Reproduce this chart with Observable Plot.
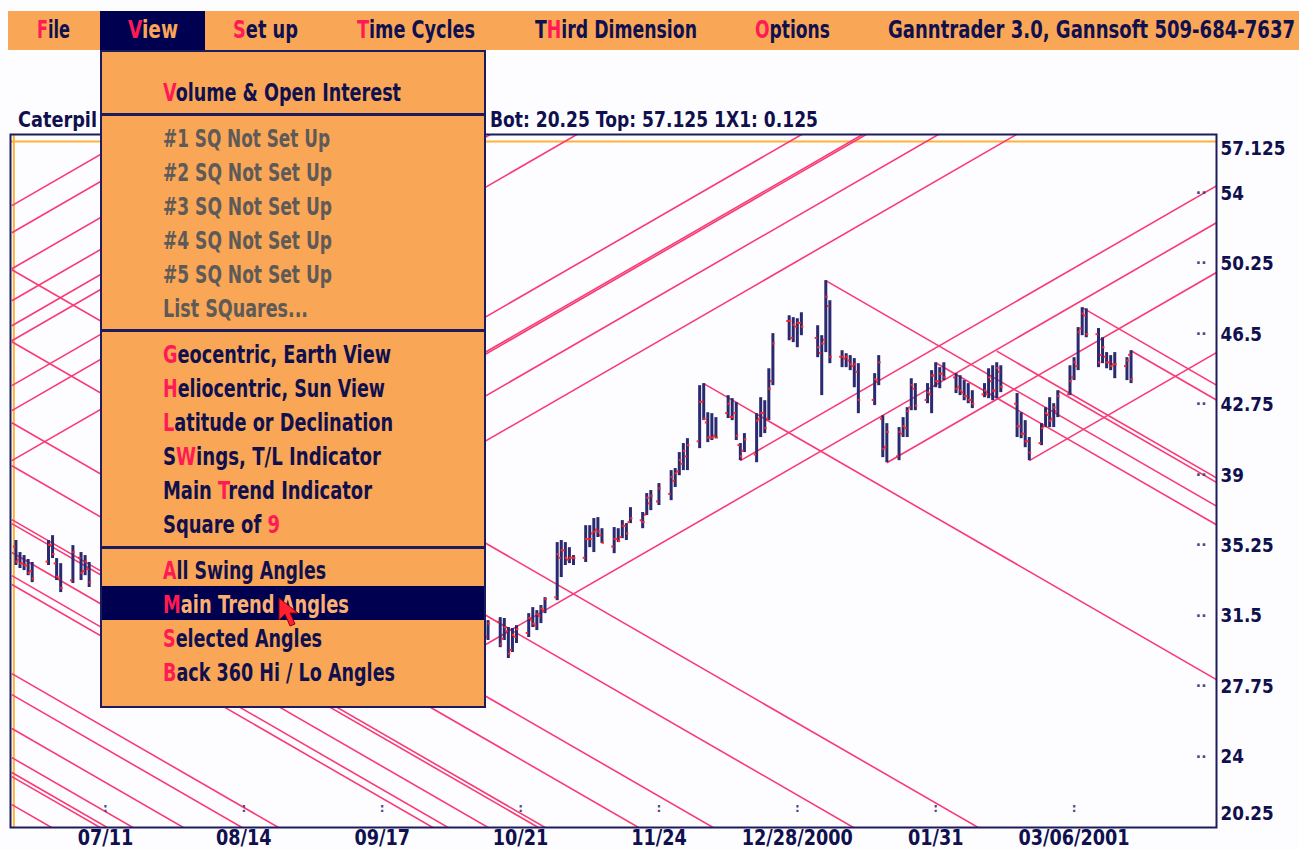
<!DOCTYPE html>
<html><head><meta charset="utf-8">
<script src="https://cdn.jsdelivr.net/npm/d3@7"></script>
<script src="https://cdn.jsdelivr.net/npm/@observablehq/plot@0.6"></script>
<style>
body{margin:0;background:#fdfdff;}
#wrap{position:relative;width:1299px;height:850px;overflow:hidden;font-family:"DejaVu Sans","Liberation Sans",sans-serif;font-weight:bold;color:#10104e;}
#wrap svg{position:absolute;left:0;top:0;}
.abs{position:absolute;white-space:nowrap;}
#menubar{left:8px;top:11px;width:1291px;height:39px;background:#f9a656;}
.mi{position:absolute;top:0;height:39px;line-height:39px;font-size:24px;}
.r{color:#ff1a55;}
#viewbox{position:absolute;left:92px;top:0;width:105px;height:39px;background:#000050;}
#drop{left:100px;top:50px;width:382px;height:654px;background:#f9a656;border:2px solid #1c1c5c;}
.it{position:absolute;left:61px;font-size:24px;height:30px;line-height:30px;}
.g{color:#5e5a58;}
.sep{position:absolute;left:0;width:382px;height:3px;background:#1c1c5c;}
#hl{position:absolute;left:0;top:534px;width:382px;height:34px;background:#000050;}
.title{top:107px;font-size:21px;height:26px;line-height:26px;}
</style></head>
<body><div id="wrap"></div>
<script>
// ---------- data ----------
const dates = ["2000-06-19","2000-06-20","2000-06-21","2000-06-22","2000-06-23","2000-06-27","2000-06-28","2000-06-29","2000-06-30","2000-07-03","2000-07-05","2000-07-06","2000-07-07",
"2000-10-13","2000-10-16","2000-10-17","2000-10-18","2000-10-19","2000-10-20","2000-10-23","2000-10-24","2000-10-25","2000-10-26","2000-10-27",
"2000-10-30","2000-10-31","2000-11-01","2000-11-02","2000-11-03","2000-11-06","2000-11-07","2000-11-08","2000-11-09","2000-11-10",
"2000-11-13","2000-11-14","2000-11-15","2000-11-16","2000-11-17","2000-11-20","2000-11-21","2000-11-22","2000-11-24",
"2000-11-27","2000-11-28","2000-11-29","2000-11-30","2000-12-01","2000-12-04","2000-12-05","2000-12-06","2000-12-07","2000-12-08",
"2000-12-11","2000-12-12","2000-12-13","2000-12-14","2000-12-15","2000-12-18","2000-12-19","2000-12-20","2000-12-21","2000-12-22",
"2000-12-26","2000-12-27","2000-12-28","2000-12-29","2001-01-02","2001-01-03","2001-01-04","2001-01-05",
"2001-01-08","2001-01-09","2001-01-10","2001-01-11","2001-01-12","2001-01-16","2001-01-17","2001-01-18","2001-01-19",
"2001-01-22","2001-01-23","2001-01-24","2001-01-25","2001-01-26","2001-01-29","2001-01-30","2001-01-31","2001-02-01","2001-02-02",
"2001-02-05","2001-02-06","2001-02-07","2001-02-08","2001-02-09","2001-02-12","2001-02-13","2001-02-14","2001-02-15","2001-02-16",
"2001-02-20","2001-02-21","2001-02-22","2001-02-23","2001-02-26","2001-02-27","2001-02-28","2001-03-01","2001-03-02",
"2001-03-05","2001-03-06","2001-03-07","2001-03-08","2001-03-09","2001-03-12","2001-03-13","2001-03-14","2001-03-15","2001-03-16",
"2001-03-19","2001-03-20"];
const highs = [35.52,34.88,34.72,34.51,34.35,35.52,35.78,34.56,34.29,35.25,34.88,34.72,34.35,
31.26,31.42,31.37,30.89,30.84,30.99,31.63,31.95,31.79,32.06,32.48,
35.41,35.52,35.41,35.14,34.72,36.31,36.31,36.69,36.74,36.15,
36.21,36.15,36.58,36.42,37.27,37.01,38.02,38.18,38.55,
39.24,39.35,40.20,40.68,40.94,43.76,43.87,42.32,42.27,42.06,
43.23,43.07,42.86,40.68,41.21,42.27,43.12,42.96,44.66,46.53,
47.48,47.38,47.32,47.64,46.95,46.42,49.35,48.28,
45.62,45.46,45.36,45.20,44.93,44.40,45.36,42.16,41.74,
41.53,42.06,42.59,44.13,43.87,43.87,44.56,44.98,44.72,44.98,
44.40,44.29,44.03,43.87,43.49,43.87,44.66,44.82,44.98,44.82,
43.34,42.32,41.90,41.00,41.74,42.59,43.12,42.80,43.49,
44.82,45.25,46.85,47.91,47.85,46.80,46.31,45.52,45.36,45.52,
45.25,45.62];
const lows = [34.19,34.03,33.92,33.65,33.28,34.19,34.56,33.39,32.75,33.23,33.39,33.65,33.02,
30.20,29.82,30.20,29.24,29.56,30.04,30.36,30.89,30.73,31.10,31.63,
32.32,33.55,34.19,34.29,34.19,34.35,35.14,34.88,35.68,35.36,
34.82,35.41,35.62,35.52,36.42,36.15,36.85,37.11,37.38,
37.64,38.34,38.97,39.24,39.24,40.41,41.90,40.73,40.84,40.94,
42.01,41.90,40.84,39.77,40.20,39.66,41.00,41.21,41.90,43.76,
46.15,46.05,45.78,46.42,45.25,43.23,45.52,44.93,
44.72,44.72,44.56,43.65,42.27,42.70,43.76,39.93,39.66,
39.77,41.00,41.00,42.43,42.43,42.80,42.27,43.65,43.60,44.03,
43.34,43.23,42.96,42.80,42.54,43.12,43.07,42.96,43.07,43.39,
41.00,40.94,40.46,39.77,40.57,41.53,41.53,41.53,42.06,
43.23,44.03,44.56,46.42,46.31,44.72,44.93,44.66,44.56,44.13,
44.03,43.87];
const opens = [35.2,34.5,34.3,34.2,33.9,34.4,35.3,34.3,33.5,33.4,34.6,33.9,34.0,
30.4,31.2,30.3,30.7,29.7,30.4,30.6,31.3,31.0,31.5,31.8,
32.5,34.6,35.0,34.5,34.6,34.6,35.6,35.9,36.1,35.8,
35.2,35.6,35.7,36.3,36.5,36.6,36.9,37.5,37.6,
38.0,38.7,39.2,39.6,40.0,40.8,42.9,41.8,41.0,41.1,
42.3,42.1,42.3,40.6,40.3,40.1,42.0,42.3,42.0,44.0,
47.2,46.3,46.9,47.1,46.3,45.5,46.2,48.0,
45.3,45.2,45.1,44.8,44.5,43.0,44.0,42.0,40.5,
40.0,41.2,41.5,42.6,43.6,43.0,43.3,44.3,44.0,44.4,
44.2,43.7,43.4,43.2,43.0,43.3,43.3,44.0,43.5,44.5,
42.8,41.6,41.2,40.8,40.7,41.6,42.2,42.0,42.4,
43.3,44.2,44.8,46.8,47.5,46.5,45.4,45.3,45.0,44.9,
44.8,45.4];
const closes = [34.4,34.3,34.2,33.8,33.5,35.3,34.8,33.6,33.0,34.9,33.8,34.4,33.3,
31.1,30.0,30.9,29.5,30.5,30.8,31.4,31.1,31.6,31.9,32.4,
34.8,35.0,34.6,34.6,34.6,35.6,35.6,36.0,36.0,35.4,
35.6,35.5,36.3,35.9,36.7,36.5,37.8,37.9,38.3,
38.9,39.1,39.8,40.3,40.6,42.9,42.0,41.0,41.0,41.0,
42.8,42.1,41.1,40.0,40.9,41.9,42.3,41.5,43.6,46.0,
47.2,47.0,47.1,46.9,45.8,46.0,48.5,45.3,
45.3,45.3,44.9,44.9,43.0,44.1,45.0,40.4,41.3,
41.3,41.6,42.4,43.8,42.7,43.4,44.3,44.0,44.4,44.2,
43.6,43.5,43.2,43.0,42.8,43.5,44.2,43.5,44.7,43.7,
41.6,41.2,40.8,40.2,41.5,42.3,41.9,42.6,43.2,
44.0,45.0,46.6,47.6,46.5,45.0,45.8,45.0,44.8,44.9,
45.1,44.1];

// Gann 1x1 angle lines: start date, start price, direction (+1 up / -1 down)
const oneByOne = 0.125; // price per calendar day
const lineStart = [
 "2000-06-18","2000-06-18","2000-06-18","2000-06-18","2000-06-18","2000-06-18","2000-06-18","2000-06-18",
 "2000-06-18","2000-06-18","2000-06-18","2000-06-18","2000-06-18","2000-06-18","2000-06-18","2000-06-18",
 "2000-06-18","2000-06-18","2000-06-18","2000-06-18","2000-06-18","2000-06-18","2000-06-18","2000-06-18","2000-06-18",
 "2000-08-28","2000-08-28","2000-08-28","2000-08-28","2000-08-28","2000-09-26",
 "2000-12-05","2000-12-14","2001-01-04","2001-01-19","2001-02-23","2001-03-08","2001-03-20","2001-01-31","2001-02-15","2001-03-02"];
const linePrice = [
 21.47,22.96,23.18,23.97,25.52,27.32,28.44,33.18,
 33.65,34.88,36.42,36.63,39.50,41.79,46.10,49.93,
 53.34,51.90,49.98,48.28,46.95,46.15,43.76,42.43,39.77,
 41.74,39.87,39.76,37.54,35.14,27.93,
 43.87,39.77,49.35,39.66,39.77,47.91,45.62,44.98,45.60,43.49];
const lineDir = [
 -1,-1,-1,-1,-1,-1,-1,-1,
 -1,-1,-1,-1,-1,-1,-1,-1,
 1,1,1,1,1,1,1,1,1,
 1,1,1,1,1,1,
 -1,1,-1,1,1,-1,-1,-1,-1,-1];

const yTicks = [54,50.25,46.5,42.75,39,35.25,31.5,27.75,24];
const yTop = 57.125, yBot = 20.25, topLine = 56.75;
const xTickDates = ["2000-07-11","2000-08-14","2000-09-17","2000-10-21","2000-11-24","2000-12-28","2001-01-31","2001-03-06"];
const xTickLabels = ["07/11","08/14","09/17","10/21","11/24","12/28/2000","01/31","03/06/2001"];
const firstDay = "2000-06-18";

// ---------- build ----------
const day = 864e5;
const xStart = new Date(Date.UTC(2000,5,17,16)), xEnd = new Date(Date.UTC(2001,3,10));
const bars = dates.map((d,i)=>({date:new Date(d),open:opens[i],high:highs[i],low:lows[i],close:closes[i]}));
const angles = lineStart.map((d,i)=>{const s=new Date(d);const n=(xEnd-s)/day;
  return {xa:s,ya:linePrice[i],xb:xEnd,yb:linePrice[i]+lineDir[i]*oneByOne*n};});
const xt = xTickDates.map(d=>new Date(d));
const lab = new Map(xt.map((d,i)=>[+d,xTickLabels[i]]));
const navy="#1c1c5c", pink="#f93a74", barC="#2a2a70", tickC="#ff2a2a", orange="#ffb23a";

const chart = Plot.plot({
  width:1299, height:850, marginTop:134, marginBottom:23, marginLeft:10, marginRight:83,
  x:{type:"utc", domain:[xStart,xEnd]},
  y:{domain:[yBot,yTop]},
  style:{fontFamily:'"DejaVu Sans",sans-serif', fontWeight:"bold", fontSize:"20px", color:"#10104e", background:"transparent"},
  marks:[
    Plot.ruleY([topLine],{stroke:orange,strokeWidth:2}),
    Plot.ruleX([new Date(firstDay)],{stroke:orange,strokeWidth:2,dx:2}),
    Plot.link(angles,{x1:"xa",y1:"ya",x2:"xb",y2:"yb",stroke:pink,strokeWidth:1.6,clip:true}),
    Plot.ruleX(bars,{x:"date",y1:"low",y2:"high",stroke:barC,strokeWidth:3}),
    Plot.ruleY(bars,{y:"open",x1:d=>new Date(+d.date-0.6*day),x2:"date",stroke:tickC,strokeWidth:2}),
    Plot.ruleY(bars,{y:"close",x1:"date",x2:d=>new Date(+d.date+0.6*day),stroke:tickC,strokeWidth:2}),
    Plot.text(yTicks,{y:d=>d,frameAnchor:"right",dx:-10,text:()=>"··",fill:"#4a4a80",fontSize:14}),
    Plot.text(xt,{x:d=>d,frameAnchor:"bottom",dy:-16,text:()=>":",fill:"#4a4a80",fontSize:12}),
    Plot.frame({stroke:navy,strokeWidth:2}),
    Plot.axisY({anchor:"right",ticks:yTicks,tickSize:0,tickPadding:4,tickFormat:d=>String(d),label:null,fontSize:20}),
    Plot.text([yTop],{y:d=>d,frameAnchor:"right",dx:4,dy:14,textAnchor:"start",text:d=>String(d),fontSize:20}),
    Plot.text([yBot],{y:d=>d,frameAnchor:"right",dx:4,dy:-14,textAnchor:"start",text:d=>String(d),fontSize:20}),
    Plot.axisX({ticks:xt,tickSize:0,tickPadding:3,tickFormat:d=>lab.get(+d),label:null,fontSize:21})
  ]
});
const wrap = document.getElementById("wrap");
wrap.appendChild(chart);
// condense axis label glyphs like the original bitmap font
chart.querySelectorAll("text").forEach(t=>{
  const s=t.textContent; if(!/\d/.test(s)) return;
  const L=t.getComputedTextLength(); t.setAttribute("textLength",L*0.84); t.setAttribute("lengthAdjust","spacingAndGlyphs");
});

// ---------- window chrome (menus, title) ----------
const menuItems = [
  {x:29,w:33, html:'<span class="r">F</span>ile'},
  {x:225,w:65, html:'<span class="r">S</span>et up'},
  {x:349,w:118, html:'<span class="r">T</span>ime Cycles'},
  {x:527,w:162, html:'T<span class="r">H</span>ird Dimension'},
  {x:747,w:75, html:'<span class="r">O</span>ptions'},
  {x:880,w:407, html:'Ganntrader 3.0, Gannsoft 509-684-7637'}
];
const dropItems = [
  {y:26,w:238, html:'<span class="r">V</span>olume &amp; Open Interest'},
  {y:72,w:167, cls:"g", html:'#1 SQ Not Set Up'},
  {y:106,w:169, cls:"g", html:'#2 SQ Not Set Up'},
  {y:140,w:169, cls:"g", html:'#3 SQ Not Set Up'},
  {y:174,w:169, cls:"g", html:'#4 SQ Not Set Up'},
  {y:208,w:169, cls:"g", html:'#5 SQ Not Set Up'},
  {y:242,w:145, cls:"g", html:'List SQuares...'},
  {y:288,w:228, html:'<span class="r">G</span>eocentric, Earth View'},
  {y:322,w:222, html:'<span class="r">H</span>eliocentric, Sun View'},
  {y:356,w:230, html:'<span class="r">L</span>atitude or Declination'},
  {y:390,w:218, html:'S<span class="r">W</span>ings, T/L Indicator'},
  {y:424,w:209, html:'Main <span class="r">T</span>rend Indicator'},
  {y:458,w:117, html:'Square of <span class="r">9</span>'},
  {y:504,w:163, html:'<span class="r">A</span>ll Swing Angles'},
  {y:538,w:186, hl:true, html:'<span class="r">M</span>ain Trend Angles'},
  {y:572,w:159, html:'<span class="r">S</span>elected Angles'},
  {y:606,w:232, html:'<span class="r">B</span>ack 360 Hi / Lo Angles'}
];
let h = '<div class="abs title" data-w="79" style="left:18px">Caterpil</div>';
h += '<div class="abs title" data-w="328" style="left:490px">Bot: 20.25 Top: 57.125 1X1: 0.125</div>';
h += '<div id="menubar" class="abs"><div id="viewbox"></div>';
h += '<div class="mi" data-w="50" style="left:120px;color:#f9a656"><span class="r">V</span>iew</div>';
menuItems.forEach(m=>{h += `<div class="mi" data-w="${m.w}" style="left:${m.x}px">${m.html}</div>`;});
h += '</div><div id="drop" class="abs"><div id="hl"></div>';
[61,277,494].forEach(y=>{h += `<div class="sep" style="top:${y}px"></div>`;});
dropItems.forEach(m=>{h += `<div class="it ${m.cls||""}" data-w="${m.w}" style="top:${m.y}px;${m.hl?"color:#f9b070":""}">${m.html}</div>`;});
h += '<svg class="abs" style="left:176px;top:545px" width="24" height="32"><polygon points="1,1 1,23 7,17 12,29 17,27 12,16 20,16" fill="#ff2030" stroke="#900010" stroke-width="1"/></svg>';
h += '</div>';
wrap.insertAdjacentHTML("beforeend", h);
// fit each label to the width it has in the original screen
wrap.querySelectorAll("[data-w]").forEach(el=>{const s=(+el.dataset.w)/el.getBoundingClientRect().width;
  el.style.transformOrigin="left center"; el.style.transform=`scaleX(${s})`;});
</script></body></html>
